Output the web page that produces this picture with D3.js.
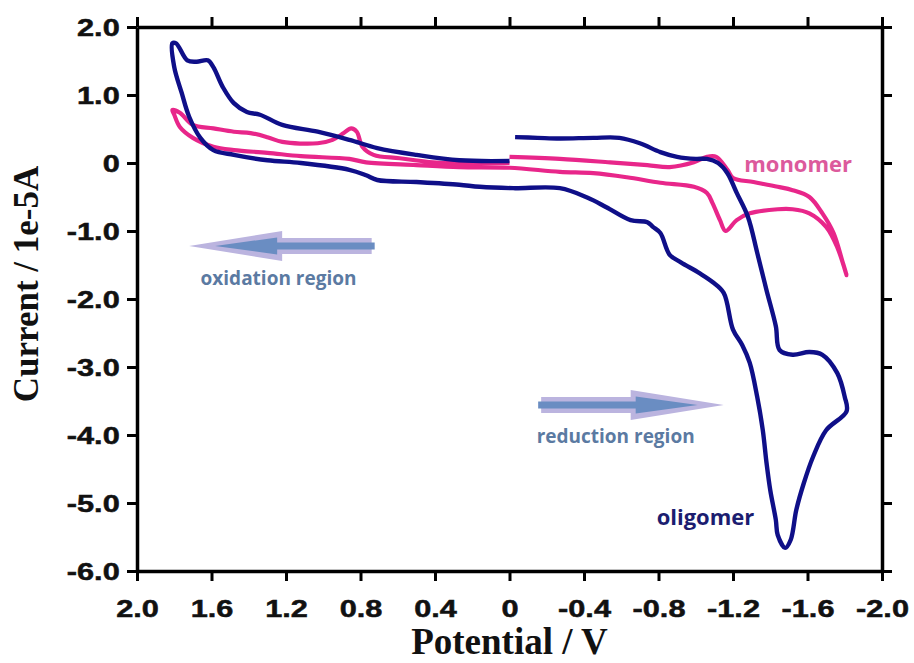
<!DOCTYPE html>
<html>
<head>
<meta charset="utf-8">
<script src="https://cdn.jsdelivr.net/npm/d3@7"></script>
<style>
  body { margin: 0; background: #fff; }
  svg { display: block; }
</style>
</head>
<body>
<svg id="chart" width="914" height="663"></svg>
<script>
// potential (V) vs current (1e-5 A)
const oligomer = [
  [-0.03, 0.38], [-0.15, 0.37], [-0.27, 0.36], [-0.45, 0.37], [-0.59, 0.37], [-0.70, 0.29], [-0.81, 0.16],
  [-0.90, 0.09], [-1.00, 0.06], [-1.06, 0.06], [-1.12, 0.0], [-1.17, -0.15], [-1.22, -0.44], [-1.28, -0.79],
  [-1.33, -1.32], [-1.38, -1.87], [-1.43, -2.40], [-1.45, -2.75], [-1.52, -2.82], [-1.61, -2.78], [-1.68, -2.82],
  [-1.76, -3.09], [-1.80, -3.44], [-1.81, -3.65],
  [-1.70, -3.93], [-1.63, -4.32], [-1.58, -4.71], [-1.54, -5.10], [-1.51, -5.54], [-1.48, -5.66], [-1.44, -5.47],
  [-1.43, -5.25], [-1.40, -4.81], [-1.38, -4.41], [-1.36, -3.93], [-1.33, -3.44], [-1.29, -2.94], [-1.25, -2.68],
  [-1.20, -2.45], [-1.15, -1.91], [-1.09, -1.75], [-1.02, -1.62], [-0.92, -1.46], [-0.86, -1.35], [-0.81, -1.03],
  [-0.77, -0.94], [-0.74, -0.87], [-0.65, -0.84], [-0.52, -0.65], [-0.42, -0.51], [-0.27, -0.37], [-0.02, -0.37],
  [0.16, -0.35], [0.27, -0.32], [0.50, -0.28], [0.71, -0.25], [0.77, -0.18], [0.86, -0.10], [1.12, 0.0],
  [1.30, 0.04], [1.48, 0.12], [1.59, 0.19], [1.66, 0.37], [1.72, 0.68], [1.76, 1.03], [1.80, 1.41], [1.81, 1.76],
  [1.79, 1.76], [1.73, 1.51], [1.68, 1.49], [1.62, 1.51], [1.59, 1.41], [1.54, 1.12], [1.48, 0.88], [1.41, 0.75],
  [1.34, 0.71], [1.22, 0.56], [1.03, 0.46], [0.86, 0.34], [0.71, 0.22], [0.50, 0.12], [0.27, 0.04], [0.0, 0.03]
]

const monomer = [
  [0.0, 0.09], [-0.27, 0.06], [-0.54, 0.01], [-0.74, -0.03], [-0.86, -0.06], [-0.99, 0.01], [-1.06, 0.09],
  [-1.11, 0.09], [-1.17, -0.10], [-1.20, -0.22], [-1.31, -0.28], [-1.44, -0.35], [-1.52, -0.40], [-1.61, -0.50],
  [-1.68, -0.74], [-1.74, -1.03], [-1.79, -1.47], [-1.81, -1.65],
  [-1.76, -1.24], [-1.70, -0.94], [-1.61, -0.74], [-1.52, -0.68], [-1.44, -0.68], [-1.29, -0.74], [-1.22, -0.84],
  [-1.16, -1.00], [-1.13, -0.84], [-1.09, -0.59], [-1.06, -0.44], [-0.99, -0.35], [-0.81, -0.29], [-0.63, -0.21],
  [-0.45, -0.15], [-0.27, -0.13], [0.0, -0.07], [0.27, -0.06], [0.50, -0.03], [0.77, 0.01], [0.86, 0.06],
  [1.12, 0.10], [1.30, 0.15], [1.48, 0.19], [1.59, 0.24], [1.70, 0.37], [1.77, 0.53], [1.80, 0.71], [1.81, 0.78],
  [1.77, 0.74], [1.70, 0.56], [1.59, 0.51], [1.48, 0.46], [1.39, 0.44], [1.30, 0.38], [1.22, 0.31], [1.03, 0.29],
  [0.95, 0.34], [0.89, 0.44], [0.85, 0.51], [0.82, 0.46], [0.79, 0.24], [0.73, 0.12], [0.59, 0.07], [0.41, 0.01],
  [0.27, 0.0], [0.0, 0.0]
]

const potentialTicks = [2.0, 1.6, 1.2, 0.8, 0.4, 0, -0.4, -0.8, -1.2, -1.6, -2.0]
const potentialLabels = ['2.0', '1.6', '1.2', '0.8', '0.4', '0', '-0.4', '-0.8', '-1.2', '-1.6', '-2.0']
const currentTicks = [2, 1, 0, -1, -2, -3, -4, -5, -6]
const currentLabels = ['2.0', '1.0', '0', '-1.0', '-2.0', '-3.0', '-4.0', '-5.0', '-6.0']

const curveLabels = [
  { text: 'monomer', at: [-1.26, -0.13], color: '#dc5a9c' },
  { text: 'oligomer', at: [-0.79, -5.32], color: '#1c1d70' }
]
const regionArrows = [
  { text: 'oxidation region', from: [0.74, -1.22], to: [1.72, -1.22], label: [1.24, -1.79] },
  { text: 'reduction region', from: [-0.17, -3.56], to: [-1.15, -3.56], label: [-0.57, -4.12] }
]

const margin = { top: 27, right: 32, bottom: 92, left: 137 }
const width = 914, height = 663
const svg = d3.select('#chart')

const x = d3.scaleLinear().domain([2, -2]).range([margin.left, width - margin.right])
const y = d3.scaleLinear().domain([2, -6]).range([margin.top, height - margin.bottom])

const minorX = d3.range(-20, 21).map(d => d / 10).filter(d => Math.abs(d * 10 % 4) > 0.01)
const minorY = d3.range(-30, 11).map(d => d / 5).filter(d => Math.abs(d % 1) > 0.01)

const tickFont = "bold 24px 'Liberation Sans', Arial, sans-serif"

const drawAxis = ( axisFn, scale, major, minor, labels, transform ) => {
  const g = svg.append('g').attr('transform', transform)
  g.call( axisFn( scale ).tickValues( minor ).tickSize( 5 ).tickSizeOuter(0).tickFormat('') )
  g.call( axisFn( scale ).tickValues( major ).tickSize( 10 ).tickSizeOuter(0)
    .tickFormat( ( d, i ) => labels ? labels[i] : '' ) )
  g.selectAll('.domain').attr('stroke', '#000').attr('stroke-width', 3.5)
  g.selectAll('.tick line').attr('stroke', '#000').attr('stroke-width', 3)
  g.selectAll('text').style('font', tickFont).attr('fill', '#111')
    .attr('stroke', '#111').attr('stroke-width', 0.5)
  return g
}

const bottom = drawAxis( d3.axisBottom, x, potentialTicks, minorX, potentialLabels, `translate(0, ${y(-6)})` )
bottom.selectAll('text').attr('y', 46).attr('dy', 0).attr('transform', 'scale(1.28, 1)')
drawAxis( d3.axisTop, x, potentialTicks, minorX, null, `translate(0, ${y(2)})` )
const left = drawAxis( d3.axisLeft, y, currentTicks, minorY, currentLabels, `translate(${x(2)}, 0)` )
left.selectAll('text').attr('x', -13.5).attr('dy', '0.36em').attr('transform', 'scale(1.28, 1)')
drawAxis( d3.axisRight, y, currentTicks, minorY, null, `translate(${x(-2)}, 0)` )

const line = d3.line()
  .x( d => x( d[0] ) )
  .y( d => y( d[1] ) )
  .curve( d3.curveCatmullRom.alpha(0.5) )

svg.append('path')
  .attr('d', line( monomer ))
  .attr('fill', 'none')
  .attr('stroke', '#e8268a')
  .attr('stroke-width', 4.2)
  .attr('stroke-linejoin', 'round')

svg.append('path')
  .attr('d', line( oligomer ))
  .attr('fill', 'none')
  .attr('stroke', '#0f0f88')
  .attr('stroke-width', 4.4)
  .attr('stroke-linejoin', 'round')

const arrowPath = ( x0, x1, cy, shaftH, headH, headLen ) => {
  const dir = Math.sign( x1 - x0 )
  const base = x1 - dir * headLen
  return `M${x0},${cy - shaftH}L${base},${cy - shaftH}L${base},${cy - headH}L${x1},${cy}` +
    `L${base},${cy + headH}L${base},${cy + shaftH}L${x0},${cy + shaftH}Z`
}

regionArrows.forEach( a => {
  const x0 = x( a.from[0] ), x1 = x( a.to[0] ), cy = y( a.from[1] )
  const dir = Math.sign( x1 - x0 )
  svg.append('path')
    .attr('d', arrowPath( x0, x1, cy, 8, 15, 93 ))
    .attr('fill', '#bbb4df')
  svg.append('path')
    .attr('d', arrowPath( x0 - dir * 3, x1 - dir * 26, cy, 3.5, 8.5, 62 ))
    .attr('fill', '#6a8dc2')
  svg.append('text')
    .attr('x', x( a.label[0] ))
    .attr('y', y( a.label[1] ))
    .attr('text-anchor', 'middle')
    .style('font', "bold 19px 'Open Sans', sans-serif")
    .attr('fill', '#5b7aa2')
    .text( a.text )
} )

curveLabels.forEach( c => {
  svg.append('text')
    .attr('x', x( c.at[0] ))
    .attr('y', y( c.at[1] ))
    .style('font', "bold 22px 'Open Sans', sans-serif")
    .attr('fill', c.color)
    .text( c.text )
} )

svg.append('text')
  .attr('x', ( x(2) + x(-2) ) / 2)
  .attr('y', 654)
  .attr('text-anchor', 'middle')
  .style('font', "bold 37px 'Liberation Serif', 'Times New Roman', serif")
  .attr('fill', '#111')
  .text('Potential / V')

svg.append('text')
  .attr('transform', `translate(38, ${y(-2) - 15}) rotate(-90)`)
  .attr('text-anchor', 'middle')
  .style('font', "bold 35px 'Liberation Serif', 'Times New Roman', serif")
  .attr('fill', '#111')
  .text('Current / 1e-5A')
</script>
</body>
</html>
